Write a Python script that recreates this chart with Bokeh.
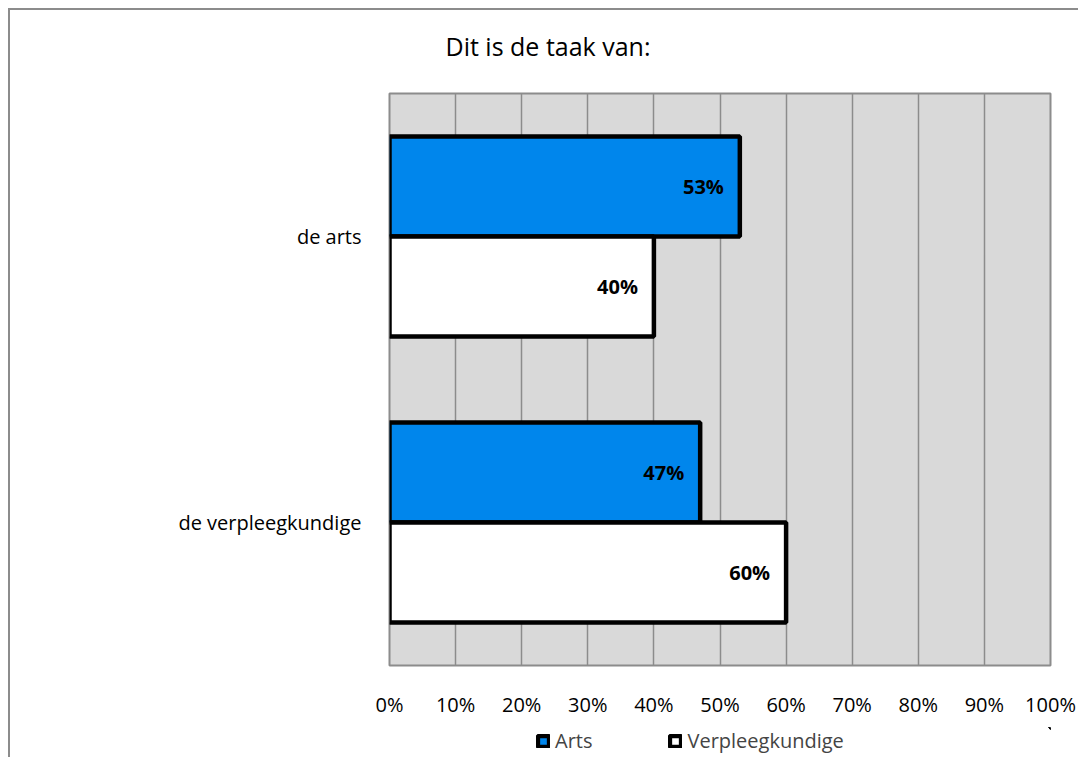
from bokeh.plotting import figure
from bokeh.layouts import column
from bokeh.models import (ColumnDataSource, FactorRange, Legend, LegendItem,
                          PrintfTickFormatter, FixedTicker, Range1d, Title)
from bokeh.transform import dodge
from bokeh.core.properties import value
from bokeh.embed import file_html
from bokeh.resources import INLINE

# ---- data ----
categories = ["de arts", "de verpleegkundige"]
series = ["Arts", "Verpleegkundige"]
arts = [53, 47]
verpleegkundige = [40, 60]
x_ticks = [0, 10, 20, 30, 40, 50, 60, 70, 80, 90, 100]
title_text = "Dit is de taak van:"

FONT = "Open Sans"
BLUE = "#0086EC"
GRID = "#8C8C8C"
FILLS = [BLUE, "white"]

src = ColumnDataSource(dict(
    cat=categories,
    arts=arts,
    verp=verpleegkundige,
    arts_lbl=[f"{v}%" for v in arts],
    verp_lbl=[f"{v}%" for v in verpleegkundige],
))

p = figure(
    frame_width=661, frame_height=572,
    y_range=FactorRange(factors=categories[::-1], range_padding=0),
    x_range=Range1d(0, 100),
    output_backend="svg", toolbar_location=None,
    min_border_left=379, min_border_right=28,
    min_border_top=83, min_border_bottom=62,
)
p.border_fill_color = "white"
p.background_fill_color = "#D9D9D9"
p.outline_line_color = GRID
p.outline_line_width = 2

p.hbar(y=dodge("cat", 0.175, range=p.y_range), left=0, right="arts", height=0.35,
       source=src, fill_color=FILLS[0], line_color="black", line_width=4.5)
p.hbar(y=dodge("cat", -0.175, range=p.y_range), left=0, right="verp", height=0.35,
       source=src, fill_color=FILLS[1], line_color="black", line_width=4.5)

p.text(x="arts", y=dodge("cat", 0.175, range=p.y_range), text="arts_lbl", source=src,
       x_offset=-16, text_align="right", text_baseline="middle",
       text_font=value(FONT), text_font_style="bold", text_font_size="20px", text_color="black")
p.text(x="verp", y=dodge("cat", -0.175, range=p.y_range), text="verp_lbl", source=src,
       x_offset=-16, text_align="right", text_baseline="middle",
       text_font=value(FONT), text_font_style="bold", text_font_size="20px", text_color="black")

# grid
p.xgrid.ticker = FixedTicker(ticks=x_ticks)
p.xgrid.grid_line_color = GRID
p.xgrid.grid_line_width = 1.5
p.ygrid.grid_line_color = None

# axes
p.xaxis.ticker = FixedTicker(ticks=x_ticks)
p.xaxis.formatter = PrintfTickFormatter(format="%d%%")
p.xaxis.axis_line_color = None
p.xaxis.major_tick_line_color = None
p.xaxis.minor_tick_line_color = None
p.xaxis.major_tick_out = 0
p.xaxis.major_tick_in = 0
p.xaxis.minor_tick_out = 0
p.xaxis.minor_tick_in = 0
p.xaxis.major_label_standoff = 25
p.xaxis.major_label_text_font = FONT
p.xaxis.major_label_text_font_size = "20px"
p.xaxis.major_label_text_color = "black"

p.yaxis.axis_line_color = None
p.yaxis.major_tick_line_color = None
p.yaxis.minor_tick_line_color = None
p.yaxis.major_label_standoff = 22
p.yaxis.major_label_text_font = FONT
p.yaxis.major_label_text_font_size = "20px"
p.yaxis.major_label_text_color = "black"

# real title (outer) + spacer title (nearest the frame)
p.title.text = title_text
p.title.text_font = FONT
p.title.text_font_size = "25px"
p.title.text_font_style = "normal"
p.title.text_color = "black"
p.title.align = "left"
p.title.offset = 56
p.title.standoff = 0
p.add_layout(Title(text=" ", text_font_size="10px", standoff=18), "above")

# legend strip below the chart (its frame is aligned with the main frame)
lf = figure(width=1068, height=30, x_range=Range1d(0, 1), y_range=Range1d(0, 1),
            x_axis_type=None, y_axis_type=None, output_backend="svg",
            toolbar_location=None, min_border=0)
lf.outline_line_color = None
lf.grid.grid_line_color = None
lf.background_fill_color = "white"
lf.border_fill_color = "white"
# legend-only renderers: data lies outside this strip's ranges, so only the legend shows
lr1 = lf.hbar(y="arts", left="arts", right="arts", height=0.35, source=src,
              fill_color=FILLS[0], line_color="black", line_width=4.5)
lr2 = lf.hbar(y="verp", left="verp", right="verp", height=0.35, source=src,
              fill_color=FILLS[1], line_color="black", line_width=4.5)
legend = Legend(items=[LegendItem(label=series[0], renderers=[lr1]),
                       LegendItem(label=series[1], renderers=[lr2])],
                orientation="horizontal", location=(147, 3),
                label_text_font=FONT, label_text_font_size="20px",
                glyph_width=14, glyph_height=14, spacing=76,
                label_standoff=5, padding=2, margin=0,
                border_line_color=None, background_fill_alpha=0)
lf.add_layout(legend)

layout = column(p, lf, spacing=0)
layout.styles = {"margin-left": "8px", "margin-top": "8px",
                 "border-top": "2px solid #8C8C8C", "border-left": "2px solid #8C8C8C"}

open("out.html", "w").write(file_html(layout, INLINE))
